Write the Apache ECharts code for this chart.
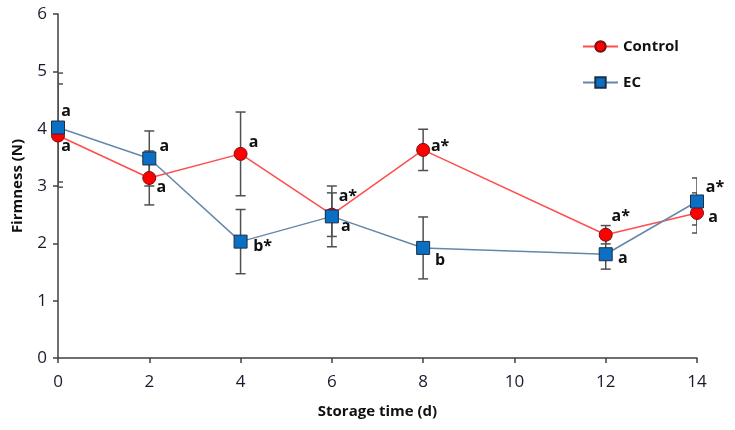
<!DOCTYPE html>
<html>
<head>
<meta charset="utf-8">
<script src="https://cdn.jsdelivr.net/npm/echarts@6/dist/echarts.min.js"></script>
<style>html,body{margin:0;padding:0;background:#fff}#c{width:735px;height:430px}</style>
</head>
<body>
<div id="c"></div>
<script>
// ---- data ----
var days = [0, 2, 4, 6, 8, 12, 14];
var controlMean = [3.88, 3.14, 3.56, 2.50, 3.63, 2.15, 2.53];
var controlErr  = [0.90, 0.47, 0.73, 0.38, 0.36, 0.16, 0.35];
var ecMean = [4.02, 3.48, 2.03, 2.47, 1.92, 1.81, 2.73];
var ecErr  = [0.95, 0.48, 0.56, 0.53, 0.54, 0.26, 0.41];
var controlLetters = ['a', 'a', 'a', 'a', 'a*', 'a*', 'a'];
var ecLetters = ['a', 'a', 'b*', 'a*', 'b', 'a', 'a*'];
var xTicks = [0, 2, 4, 6, 8, 10, 12, 14];
var yTicks = [0, 1, 2, 3, 4, 5, 6];

// ---- layout (label offsets in px, relative to point centre) ----
var controlLabelOffset = [[8, 11], [12, 9], [13, -11], [14, 12], [17, -3], [15, -18], [16, 4]];
var ecLabelOffset = [[8, -16], [15, -12], [22, 5], [16, -20], [17, 13], [17, 4], [18, -14]];

var FONT = 'Open Sans';

function pts(mean, letters, offs) {
  return days.map(function (d, i) {
    return {
      value: [d, mean[i]],
      label: {
        show: true, formatter: letters[i], position: 'inside',
        offset: offs[i], align: 'center', verticalAlign: 'middle',
        fontWeight: 'bold', fontSize: 16, color: '#111', fontFamily: FONT
      }
    };
  });
}
function errData(mean, err) {
  return days.map(function (d, i) { return [d, mean[i] - err[i], mean[i] + err[i]]; });
}
function errRender(params, api) {
  var x = api.value(0);
  var lo = api.coord([x, api.value(1)]);
  var hi = api.coord([x, api.value(2)]);
  var w = 5;
  var st = { stroke: '#505050', lineWidth: 1.5 };
  return {
    type: 'group',
    children: [
      { type: 'line', shape: { x1: hi[0], y1: hi[1], x2: lo[0], y2: lo[1] }, style: st },
      { type: 'line', shape: { x1: hi[0] - w, y1: hi[1], x2: hi[0] + w, y2: hi[1] }, style: st },
      { type: 'line', shape: { x1: lo[0] - w, y1: lo[1], x2: lo[0] + w, y2: lo[1] }, style: st }
    ]
  };
}

var chart = echarts.init(document.getElementById('c'), null, { renderer: 'canvas' });
chart.setOption({
  animation: false,
  backgroundColor: '#fff',
  textStyle: { fontFamily: FONT },
  grid: { left: 58, right: 38, top: 14, bottom: 72 },
  legend: {
    orient: 'vertical', left: 577, top: 34, itemWidth: 35, itemHeight: 13, itemGap: 21,
    data: ['Control', 'EC'],
    textStyle: { fontWeight: 'bold', fontSize: 15, color: '#111', fontFamily: FONT }
  },
  xAxis: {
    type: 'value', min: xTicks[0], max: xTicks[xTicks.length - 1], interval: 2,
    name: 'Storage time (d)', nameLocation: 'middle', nameGap: 46,
    nameTextStyle: { fontWeight: 'bold', fontSize: 15, color: '#111', fontFamily: FONT },
    axisLine: { lineStyle: { color: '#404040', width: 1.5 } },
    axisTick: { show: true, length: 5, lineStyle: { color: '#404040', width: 1.5 } },
    axisLabel: { fontSize: 17, color: '#1a1a2e', margin: 16, fontFamily: FONT },
    splitLine: { show: false }
  },
  yAxis: {
    type: 'value', min: yTicks[0], max: yTicks[yTicks.length - 1], interval: 1,
    name: 'Firmness (N)', nameLocation: 'middle', nameGap: 33, nameRotate: 90,
    nameTextStyle: { fontWeight: 'bold', fontSize: 15, color: '#111', fontFamily: FONT },
    axisLine: { show: true, lineStyle: { color: '#404040', width: 1.5 } },
    axisTick: { show: true, length: 5, lineStyle: { color: '#404040', width: 1.5 } },
    axisLabel: { fontSize: 17, color: '#1a1a2e', margin: 11, fontFamily: FONT },
    splitLine: { show: false }
  },
  series: [
    { type: 'custom', name: 'errC', renderItem: errRender, data: errData(controlMean, controlErr), clip: true, z: 2, silent: true },
    { type: 'custom', name: 'errE', renderItem: errRender, data: errData(ecMean, ecErr), clip: true, z: 2, silent: true },
    {
      name: 'Control', type: 'line', data: pts(controlMean, controlLetters, controlLabelOffset),
      symbol: 'circle', symbolSize: 13, z: 4,
      lineStyle: { color: '#ff4d4d', width: 1.5 },
      itemStyle: { color: '#ff0000', borderColor: '#7a1010', borderWidth: 1 }
    },
    {
      name: 'EC', type: 'line', data: pts(ecMean, ecLetters, ecLabelOffset),
      symbol: 'rect', symbolSize: 13, z: 5,
      lineStyle: { color: '#6687aa', width: 1.5 },
      itemStyle: { color: '#0b6fc4', borderColor: '#1d2f45', borderWidth: 1 }
    }
  ]
});
</script>
</body>
</html>
